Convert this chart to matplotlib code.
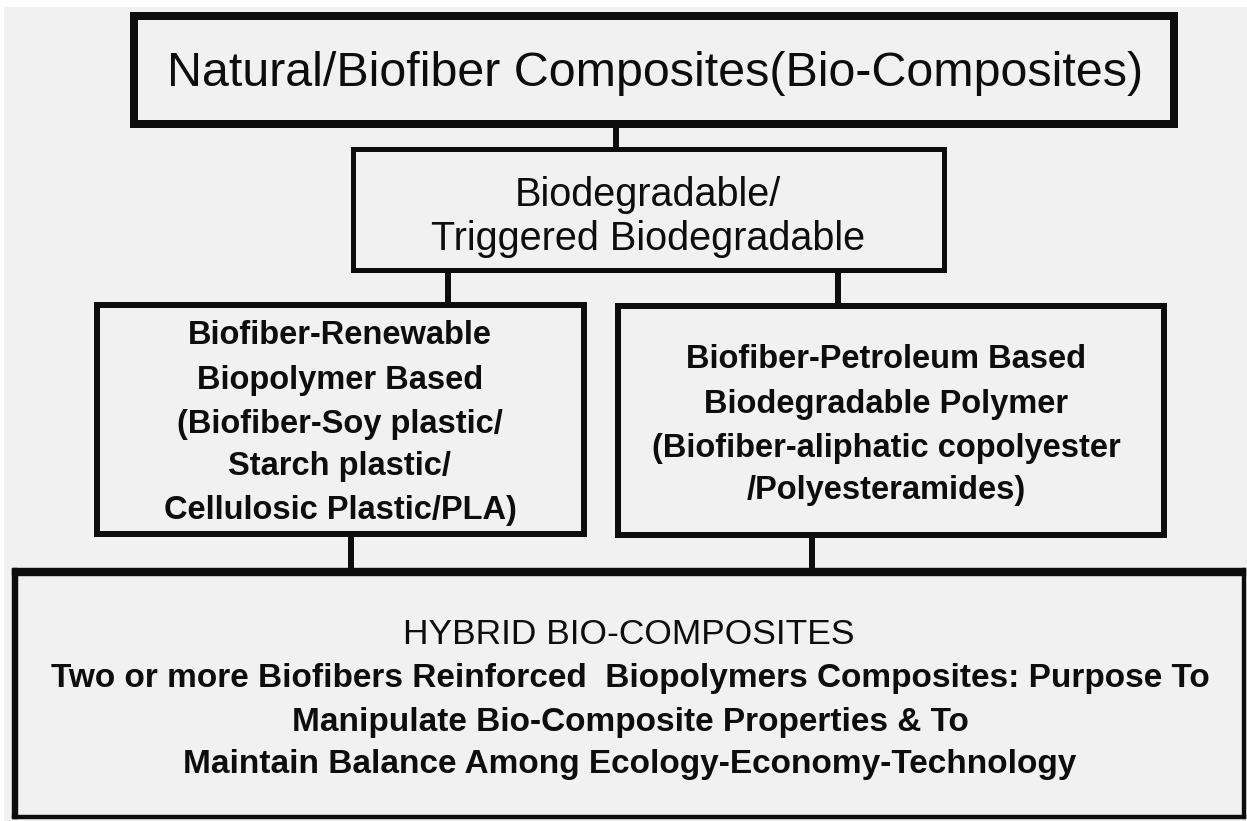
"""
plot.py
-------
Flow chart of natural / biofiber composite classes (bio-composites),
drawn with plain matplotlib patches and text in pixel coordinates.
"""

import matplotlib.pyplot as plt
from matplotlib.patches import Rectangle

# ─────────────────────────────────────────────
# Chart text
# ─────────────────────────────────────────────

TITLE = "Natural/Biofiber Composites(Bio-Composites)"

LEVEL2_LINES = ["Biodegradable/", "Triggered Biodegradable"]

LEFT_LINES = [
    "Biofiber-Renewable",
    "Biopolymer Based",
    "(Biofiber-Soy plastic/",
    "Starch plastic/",
    "Cellulosic Plastic/PLA)",
]

RIGHT_LINES = [
    "Biofiber-Petroleum Based",
    "Biodegradable Polymer",
    "(Biofiber-aliphatic copolyester",
    "/Polyesteramides)",
]

HYBRID_HEAD = "HYBRID BIO-COMPOSITES"
HYBRID_LINES = [
    "Two or more Biofibers Reinforced  Biopolymers Composites: Purpose To",
    "Manipulate Bio-Composite Properties & To",
    "Maintain Balance Among Ecology-Economy-Technology",
]

# ─────────────────────────────────────────────
# Layout (pixels, origin top-left)
# ─────────────────────────────────────────────

W, H = 1247, 821
BG = "#f1f1f1"
INK = "#0d0d0d"
FONT = ["Liberation Sans", "DejaVu Sans"]

# name: (x0, y0, x1, y1, border px) — outer extents
BOXES = {
    "top": (130, 12, 1178, 128, 8),
    "level2": (350, 147, 946, 273, 5),
    "left": (94, 302, 587, 537, 6),
    "right": (615, 303, 1167, 538, 6),
}

# bottom box has uneven borders: (x0, y0, x1, y1) and top/left/right/bottom px
BOTTOM_BOX = (12, 568, 1245, 818)
BOTTOM_EDGES = {"top": 7, "left": 5, "right": 3, "bottom": 3}

# (x, y_start, y_end)
CONNECTORS = [
    (616, 124, 150),
    (448, 270, 305),
    (838, 270, 306),
    (351, 534, 571),
    (812, 535, 571),
]

PX = 0.72  # points per pixel at dpi=100


def draw_box(ax, x0, y0, x1, y1, lw):
    half = lw / 2
    ax.add_patch(Rectangle(
        (x0 + half, y0 + half), (x1 - x0) - lw, (y1 - y0) - lw,
        facecolor=BG, edgecolor=INK, linewidth=lw * PX, zorder=2,
    ))


def draw_bottom_box(ax):
    x0, y0, x1, y1 = BOTTOM_BOX
    e = BOTTOM_EDGES
    ax.add_patch(Rectangle((x0, y0), x1 - x0, y1 - y0,
                           facecolor=BG, edgecolor="none", zorder=2))
    ax.add_patch(Rectangle((x0, y0), x1 - x0, e["top"], color=INK, zorder=2))
    ax.add_patch(Rectangle((x0, y1 - e["bottom"]), x1 - x0, e["bottom"], color=INK, zorder=2))
    ax.add_patch(Rectangle((x0, y0), e["left"], y1 - y0, color=INK, zorder=2))
    ax.add_patch(Rectangle((x1 - e["right"], y0), e["right"], y1 - y0, color=INK, zorder=2))


def draw_lines(ax, lines, x, ys, size, weight="normal"):
    for text, y in zip(lines, ys):
        ax.text(x, y + 2, text, ha="center", va="center", fontsize=size,
                fontweight=weight, color=INK, family=FONT, zorder=3)


def main():
    fig = plt.figure(figsize=(W / 100, H / 100), dpi=100, facecolor="white")
    ax = fig.add_axes([0, 0, 1, 1])
    ax.set_xlim(0, W)
    ax.set_ylim(H, 0)
    ax.axis("off")

    # grey page with thin white margin top/left
    ax.add_patch(Rectangle((4, 7), W, H, facecolor=BG, edgecolor="none", zorder=0))

    for x, ya, yb in CONNECTORS:
        ax.plot([x, x], [ya, yb], color=INK, linewidth=6 * PX,
                solid_capstyle="butt", zorder=1)

    for x0, y0, x1, y1, lw in BOXES.values():
        draw_box(ax, x0, y0, x1, y1, lw)
    draw_bottom_box(ax)

    draw_lines(ax, [TITLE], 655, [72], 34.8)
    draw_lines(ax, LEVEL2_LINES, 648, [193, 237], 28.5)
    draw_lines(ax, LEFT_LINES, 340, [333, 378, 422, 465, 508], 23.5, "bold")
    draw_lines(ax, RIGHT_LINES, 886, [357, 402, 447, 488], 23.5, "bold")
    draw_lines(ax, [HYBRID_HEAD], 629, [633], 25.5)
    draw_lines(ax, HYBRID_LINES, 630, [677, 720, 763], 24, "bold")

    fig.savefig("out.png", dpi=100, facecolor=fig.get_facecolor())
    plt.close(fig)


if __name__ == "__main__":
    main()
